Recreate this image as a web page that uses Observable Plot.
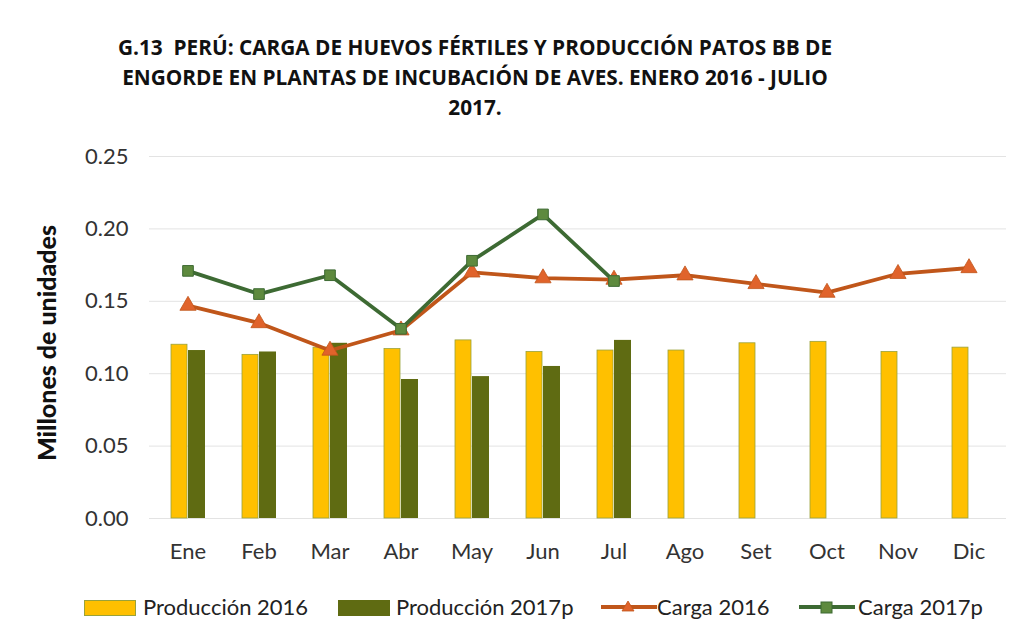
<!DOCTYPE html>
<html>
<head>
<meta charset="utf-8">
<script src="https://cdn.jsdelivr.net/npm/d3@7"></script>
<script src="https://cdn.jsdelivr.net/npm/@observablehq/plot@0.6"></script>
<style>
  body { margin: 0; background: #fff; width: 1036px; height: 637px; position: relative; overflow: hidden;
         font-family: Lato, "Open Sans", sans-serif; }
  #title { position: absolute; left: 75px; width: 800px; top: 32px; text-align: center;
           font-family: "Open Sans", sans-serif; font-weight: bold; font-size: 20.8px; line-height: 30px; color: #111; }
  #chart { position: absolute; left: 0; top: 140px; }
  #ylabel { position: absolute; left: 46px; top: 343px; transform: translate(-50%, -50%) rotate(-90deg);
            font-family: Lato, sans-serif; font-weight: 900; font-size: 25px; white-space: nowrap; color: #111; }
  #legend { position: absolute; top: 594px; left: 0; width: 1036px; height: 26px; font-size: 22px; color: #222; }
  .sw { position: absolute; top: 6px; height: 16px; box-sizing: border-box; }
  .lt { position: absolute; top: 0; line-height: 26px; white-space: nowrap; }
  .ls { position: absolute; top: 3px; }
</style>
</head>
<body>
<div id="title">G.13&nbsp;&nbsp;PERÚ: CARGA DE HUEVOS FÉRTILES Y PRODUCCIÓN PATOS BB DE<br>ENGORDE EN PLANTAS DE INCUBACIÓN DE AVES. ENERO 2016 - JULIO<br>2017.</div>
<div id="chart"></div>
<div id="ylabel">Millones de unidades</div>
<div id="legend"></div>
<script>
const months = ["Ene","Feb","Mar","Abr","May","Jun","Jul","Ago","Set","Oct","Nov","Dic"];
const prod2016 = [0.120,0.113,0.118,0.117,0.123,0.115,0.116,0.116,0.121,0.122,0.115,0.118];
const prod2017 = [0.116,0.115,0.121,0.096,0.098,0.105,0.123];
const carga2016 = [0.147,0.135,0.116,0.130,0.170,0.166,0.165,0.168,0.162,0.156,0.169,0.173];
const carga2017 = [0.171,0.155,0.168,0.131,0.178,0.210,0.164];
const yTicks = [0,0.05,0.10,0.15,0.20,0.25];
const seriesNames = ["Producción 2016","Producción 2017p","Carga 2016","Carga 2017p"];

const colors = { p16: "#FFC000", p17: "#5F6B12", c16: "#C0561A", c16m: "#E0632B", c17: "#3D6A33", c17m: "#5E8A3E" };

const rows = (arr) => arr.map((v, i) => ({ month: months[i], value: v }));
const dP16 = rows(prod2016), dP17 = rows(prod2017), dC16 = rows(carga2016), dC17 = rows(carga2017);

const chart = Plot.plot({
  width: 1036,
  height: 428,
  marginLeft: 149,
  marginRight: 30,
  marginTop: 16,
  marginBottom: 50,
  style: { fontFamily: "Lato, sans-serif", fontSize: "22px", color: "#333", background: "transparent" },
  x: { type: "band", domain: months, padding: 0, label: null, tickSize: 0, tickPadding: 25 },
  y: { domain: [0, 0.25], ticks: yTicks, tickFormat: d3.format(".2f"), label: null, tickSize: 0, tickPadding: 21 },
  marks: [
    Plot.ruleY(yTicks, { stroke: "#e3e3e3", strokeWidth: 1 }),
    Plot.barY(dP16, { x: "month", y: "value", fill: colors.p16, stroke: "#9aa23a", strokeWidth: 0.8, insetLeft: 19, insetRight: 36 }),
    Plot.barY(dP17, { x: "month", y: "value", fill: colors.p17, insetLeft: 36, insetRight: 18 }),
    Plot.line(dC16, { x: "month", y: "value", stroke: colors.c16, strokeWidth: 3.8 }),
    Plot.dot(dC16, { x: "month", y: "value", symbol: "triangle", r: 6, fill: colors.c16m, stroke: colors.c16, strokeWidth: 0.8 }),
    Plot.line(dC17, { x: "month", y: "value", stroke: colors.c17, strokeWidth: 3.8 }),
    Plot.dot(dC17, { x: "month", y: "value", symbol: "square", r: 6, fill: colors.c17m, stroke: colors.c17, strokeWidth: 1 })
  ]
});
document.getElementById("chart").appendChild(chart);

// Legend (HTML, placed below the SVG)
const legend = document.getElementById("legend");
const items = [
  { sw: 84, text: 143, kind: "bar", fill: colors.p16, stroke: "#9aa23a" },
  { sw: 338, text: 396, kind: "bar", fill: colors.p17, stroke: colors.p17 },
  { sw: 601, text: 657, kind: "tri", stroke: colors.c16, fill: colors.c16m },
  { sw: 799, text: 858, kind: "sq", stroke: colors.c17, fill: colors.c17m }
];
items.forEach((it, i) => {
  let html;
  if (it.kind === "bar") {
    html = `<div class="sw" style="left:${it.sw}px;width:52px;background:${it.fill};border:1px solid ${it.stroke}"></div>`;
  } else {
    const marker = it.kind === "tri"
      ? `<path d="M27,4 L33,14 L21,14 Z" fill="${it.fill}" stroke="${it.stroke}" stroke-width="0.8"/>`
      : `<rect x="22" y="5" width="11" height="11" fill="${it.fill}" stroke="${it.stroke}"/>`;
    html = `<svg class="ls" style="left:${it.sw}px" width="56" height="20"><line x1="0" y1="10" x2="56" y2="10" stroke="${it.stroke}" stroke-width="3.8"/>${marker}</svg>`;
  }
  html += `<span class="lt" style="left:${it.text}px">${seriesNames[i]}</span>`;
  legend.insertAdjacentHTML("beforeend", html);
});
</script>
</body>
</html>
